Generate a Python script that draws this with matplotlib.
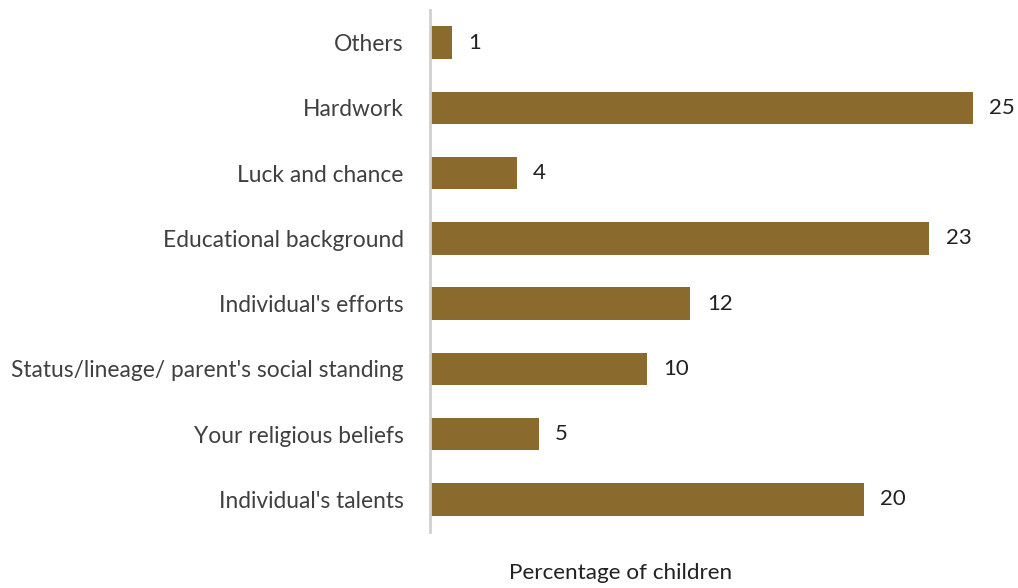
import matplotlib
matplotlib.use('Agg')
import matplotlib.pyplot as plt

# Survey responses, listed bottom to top
categories = [
    "Individual's talents",
    "Your religious beliefs",
    "Status/lineage/ parent's social standing",
    "Individual's efforts",
    "Educational background",
    "Luck and chance",
    "Hardwork",
    "Others",
]
values = [20, 5, 10, 12, 23, 4, 25, 1]

BAR_COLOR = '#8B6A2E'
TEXT_COLOR = '#404040'

plt.rcParams['font.family'] = ['Lato', 'DejaVu Sans']

fig = plt.figure(figsize=(10.18, 5.88), dpi=100)
ax = fig.add_axes([0.4224, 0.0952, 0.5757, 0.8878])

ypos = range(len(categories))
ax.barh(ypos, values, height=0.5, color=BAR_COLOR)

for y, v in zip(ypos, values):
    ax.text(v + 0.75, y, str(v), va='center', ha='left', fontsize=16, color='#222222')

ax.set_yticks(list(ypos))
ax.set_yticklabels(categories, fontsize=16.4, color=TEXT_COLOR)
ax.tick_params(axis='y', length=0, pad=19)
ax.set_xticks([])
ax.set_xlim(0, 27)
ax.set_ylim(-0.5, len(categories) - 0.5)

for side in ['top', 'right', 'bottom']:
    ax.spines[side].set_visible(False)
ax.spines['left'].set_color('#d0d0d0')
ax.spines['left'].set_linewidth(2)

fig.text(0.610, 0.026, 'Percentage of children', ha='center', va='center',
         fontsize=16.2, color='#222222')

fig.savefig('out.png', dpi=100)
